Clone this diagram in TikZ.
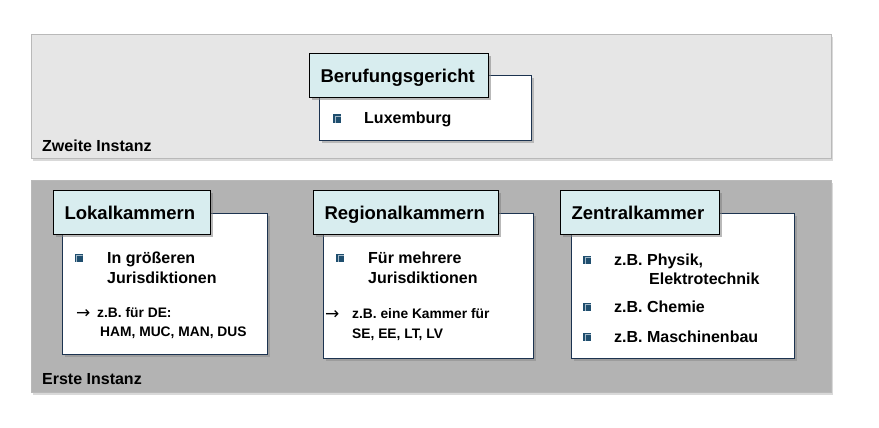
\documentclass[tikz,border=0pt]{standalone}
\usepackage{fontspec}
\setmainfont{Liberation Sans}
\newfontfamily\arrowfont{DejaVu Sans}
\usetikzlibrary{shadows}
\definecolor{headfill}{HTML}{D8EDEF}
\definecolor{panellight}{HTML}{E6E6E6}
\definecolor{paneldark}{HTML}{B3B3B3}
\definecolor{cardline}{HTML}{1C3350}
\definecolor{bulletblue}{HTML}{1F4E6E}
\definecolor{bulletlight}{HTML}{A3B8C8}
\hyphenpenalty=10000
\begin{document}
\begin{tikzpicture}[x=1pt, y=-1pt,
    panel/.style={draw=gray!55, line width=0.6pt, anchor=north west, inner sep=0pt,
      drop shadow={shadow xshift=1.5pt, shadow yshift=-2.5pt, opacity=0.3}},
    card/.style={draw=cardline, fill=white, line width=1.2pt, anchor=north west, inner sep=0pt,
      drop shadow={shadow xshift=2pt, shadow yshift=-2pt, opacity=0.45}},
    header/.style={draw=black, fill=headfill, line width=1.2pt, anchor=north west,
      minimum height=44pt, inner xsep=11pt, inner ysep=0pt, align=left,
      text height=18pt, text depth=4pt, font=\bfseries\fontsize{18.5}{22}\selectfont,
      drop shadow={shadow xshift=2.5pt, shadow yshift=-2.5pt, opacity=0.55}},
    item/.style={anchor=base west, inner sep=0pt, font=\bfseries\fontsize{16}{19}\selectfont},
    small/.style={anchor=base west, inner sep=0pt, font=\bfseries\fontsize{13.8}{17}\selectfont},
    arrowtxt/.style={anchor=base west, inner sep=0pt, font=\arrowfont\fontsize{17}{19}\selectfont},
    bulletsq/.style={fill=bulletblue, minimum size=8pt, inner sep=0pt,
      path picture={\draw[bulletlight, line width=0.7pt]
        ([shift={(2.3pt,0pt)}]path picture bounding box.south west) |-
        ([shift={(0pt,-2.3pt)}]path picture bounding box.north east);}}]
  \useasboundingbox (0,0) rectangle (879,428);

  % Zweite Instanz
  \node[panel, fill=panellight, minimum width=800pt, minimum height=124pt] (zweite) at (31,34) {};
  \node[item] (zweitelabel) at (42,151) {Zweite Instanz};
  \node[card, minimum width=212pt, minimum height=65pt] (berufcard) at (319,75) {};
  \node[header, text width=157pt] (beruf) at (309,53) {Berufungsgericht};
  \node[bulletsq] (b1) at (337,118.5) {};
  \node[item] (lux) at (364,124) {Luxemburg};

  % Erste Instanz
  \node[panel, fill=paneldark, minimum width=800pt, minimum height=212pt] (erste) at (31,180) {};
  \node[item] (erstelabel) at (42,384) {Erste Instanz};

  % Lokalkammern
  \node[card, minimum width=205pt, minimum height=141pt] (lokalcard) at (62,213) {};
  \node[header, text width=135pt] (lokal) at (53,190) {Lokalkammern};
  \node[bulletsq] (b2) at (78.5,257.5) {};
  \node[item] (lokal1) at (107,263) {In größeren};
  \node[item] (lokal2) at (107,283) {Jurisdiktionen};
  \node[arrowtxt] (lokalarrow) at (76,318.5) {→};
  \node[small] (lokal3) at (97,317) {z.B. für DE:};
  \node[small] (lokal4) at (100,336) {HAM, MUC, MAN, DUS};

  % Regionalkammern
  \node[card, minimum width=210pt, minimum height=145pt] (regiocard) at (323,213) {};
  \node[header, text width=163pt] (regio) at (313,190) {Regionalkammern};
  \node[bulletsq] (b3) at (340,257.5) {};
  \node[item] (regio1) at (368,263) {Für mehrere};
  \node[item] (regio2) at (368,283) {Jurisdiktionen};
  \node[arrowtxt] (regioarrow) at (325,319.5) {→};
  \node[small] (regio3) at (352,318) {z.B. eine Kammer für};
  \node[small] (regio4) at (352,338) {SE, EE, LT, LV};

  % Zentralkammer
  \node[card, minimum width=223pt, minimum height=145pt] (zentralcard) at (571,213) {};
  \node[header, text width=137pt] (zentral) at (560,190) {Zentralkammer};
  \node[bulletsq] (b4) at (587,259.5) {};
  \node[item] (zentral1) at (614,265) {z.B. Physik,};
  \node[item] (zentral2) at (649,284) {Elektrotechnik};
  \node[bulletsq] (b5) at (587,306.5) {};
  \node[item] (zentral3) at (614,312) {z.B. Chemie};
  \node[bulletsq] (b6) at (587,336.5) {};
  \node[item] (zentral4) at (614,342) {z.B. Maschinenbau};
\end{tikzpicture}
\end{document}
